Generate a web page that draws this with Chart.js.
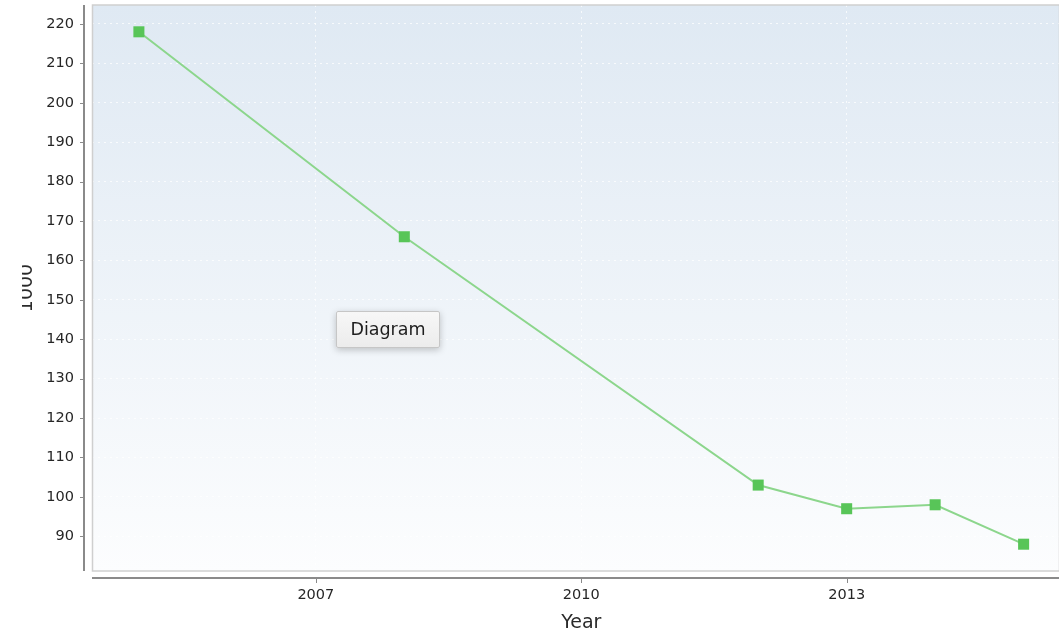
<!DOCTYPE html>
<html>
<head>
<meta charset="utf-8">
<script src="https://cdn.jsdelivr.net/npm/chart.js@4/dist/chart.umd.min.js"></script>
<style>
    html, body { margin: 0; padding: 0; background: #fff; }
    #wrap { position: relative; width: 1059px; height: 631px; }
    #tip {
        position: absolute; left: 336px; top: 311px; width: 102px; height: 35px;
        background: linear-gradient(#f7f7f7, #ececec);
        border: 1px solid #c6c6c6; border-radius: 2px;
        box-shadow: 0 2px 7px rgba(0,0,0,0.22);
        font: 17.5px 'DejaVu Sans', sans-serif; color: #1e1e1e;
        text-align: center; line-height: 35px;
    }
</style>
</head>
<body>
<div id="wrap">
    <canvas id="chart" width="1059" height="631"></canvas>
    <div id="tip">Diagram</div>
</div>
<script>
// values
const years = [2005, 2008, 2012, 2013, 2014, 2015];
const values = [218, 166, 103, 97, 98, 88];
const xTicks = [2007, 2010, 2013];
const yTicks = [90, 100, 110, 120, 130, 140, 150, 160, 170, 180, 190, 200, 210, 220];
const xTitle = 'Year';
const yTitle = '1000';

const tickFont = { family: 'DejaVu Sans', size: 14.5 };

// background, frame, offset axis lines and titles
const decor = {
    id: 'decor',
    beforeDraw(chart) {
        const { ctx, chartArea: a } = chart;
        const g = ctx.createLinearGradient(0, a.top, 0, a.bottom);
        g.addColorStop(0, '#dfe9f3');
        g.addColorStop(1, '#fcfdfe');
        ctx.save();
        ctx.fillStyle = g;
        ctx.fillRect(a.left, a.top, a.right - a.left, a.bottom - a.top);
        ctx.restore();
    },
    afterDatasetsDraw(chart) {
        const { ctx, chartArea: a, scales } = chart;
        ctx.save();
        // plot frame
        ctx.strokeStyle = '#cfcfcf';
        ctx.lineWidth = 1.5;
        ctx.strokeRect(a.left + 0.5, a.top, a.right - a.left, a.bottom - a.top);

        // axis lines sit a little away from the plot
        ctx.strokeStyle = '#8a8a8a';
        ctx.lineWidth = 2;
        ctx.beginPath();
        ctx.moveTo(84, a.top);
        ctx.lineTo(84, a.bottom);
        ctx.moveTo(a.left, 578);
        ctx.lineTo(a.right, 578);
        ctx.stroke();

        ctx.lineWidth = 1;
        ctx.beginPath();
        scales.y.ticks.forEach(t => {
            const y = Math.round(scales.y.getPixelForValue(t.value)) + 0.5;
            ctx.moveTo(80, y);
            ctx.lineTo(84, y);
        });
        scales.x.ticks.forEach(t => {
            const x = Math.round(scales.x.getPixelForValue(t.value)) + 0.5;
            ctx.moveTo(x, 578);
            ctx.lineTo(x, 583);
        });
        ctx.stroke();

        // axis titles
        ctx.fillStyle = '#2a2a2a';
        ctx.font = "19px 'DejaVu Sans'";
        ctx.textAlign = 'center';
        ctx.textBaseline = 'alphabetic';
        ctx.fillText(xTitle, scales.x.getPixelForValue(2010), 628);

        ctx.beginPath();
        ctx.rect(22, 0, 60, 631);
        ctx.clip();
        ctx.translate(32, (a.top + a.bottom) / 2);
        ctx.rotate(-Math.PI / 2);
        ctx.fillText(yTitle, 0, 0);
        ctx.restore();
    }
};

new Chart(document.getElementById('chart'), {
    type: 'line',
    data: {
        datasets: [{
            data: years.map((y, i) => ({ x: y, y: values[i] })),
            borderColor: '#8cd68c',
            borderWidth: 2,
            backgroundColor: '#58c558',
            pointBackgroundColor: '#58c558',
            pointBorderWidth: 0,
            pointStyle: 'rect',
            pointRadius: 7.8,
            tension: 0,
            fill: false
        }]
    },
    options: {
        responsive: false,
        animation: false,
        layout: { autoPadding: false, padding: { top: 5, right: 0, left: 0, bottom: 0 } },
        plugins: { legend: { display: false }, tooltip: { enabled: false } },
        scales: {
            x: {
                type: 'linear',
                min: 2004.47,
                max: 2015.4,
                afterBuildTicks: s => { s.ticks = xTicks.map(v => ({ value: v })); },
                afterFit: s => { s.height = 60; s.paddingLeft = 0; s.paddingRight = 0; },
                ticks: { color: '#262626', font: tickFont, padding: 16, maxRotation: 0, callback: v => String(v) },
                grid: { color: 'rgba(255,255,255,0.75)', lineWidth: 1, drawTicks: false },
                border: { display: false, dash: [2, 4] }
            },
            y: {
                min: 81.2,
                max: 224.8,
                afterBuildTicks: s => { s.ticks = yTicks.map(v => ({ value: v })); },
                afterFit: s => { s.width = 92; s.paddingTop = 0; s.paddingBottom = 0; },
                ticks: { color: '#262626', font: tickFont, padding: 18 },
                grid: { color: 'rgba(255,255,255,0.75)', lineWidth: 1, drawTicks: false },
                border: { display: false, dash: [2, 4] }
            }
        }
    },
    plugins: [decor]
});
</script>
</body>
</html>
